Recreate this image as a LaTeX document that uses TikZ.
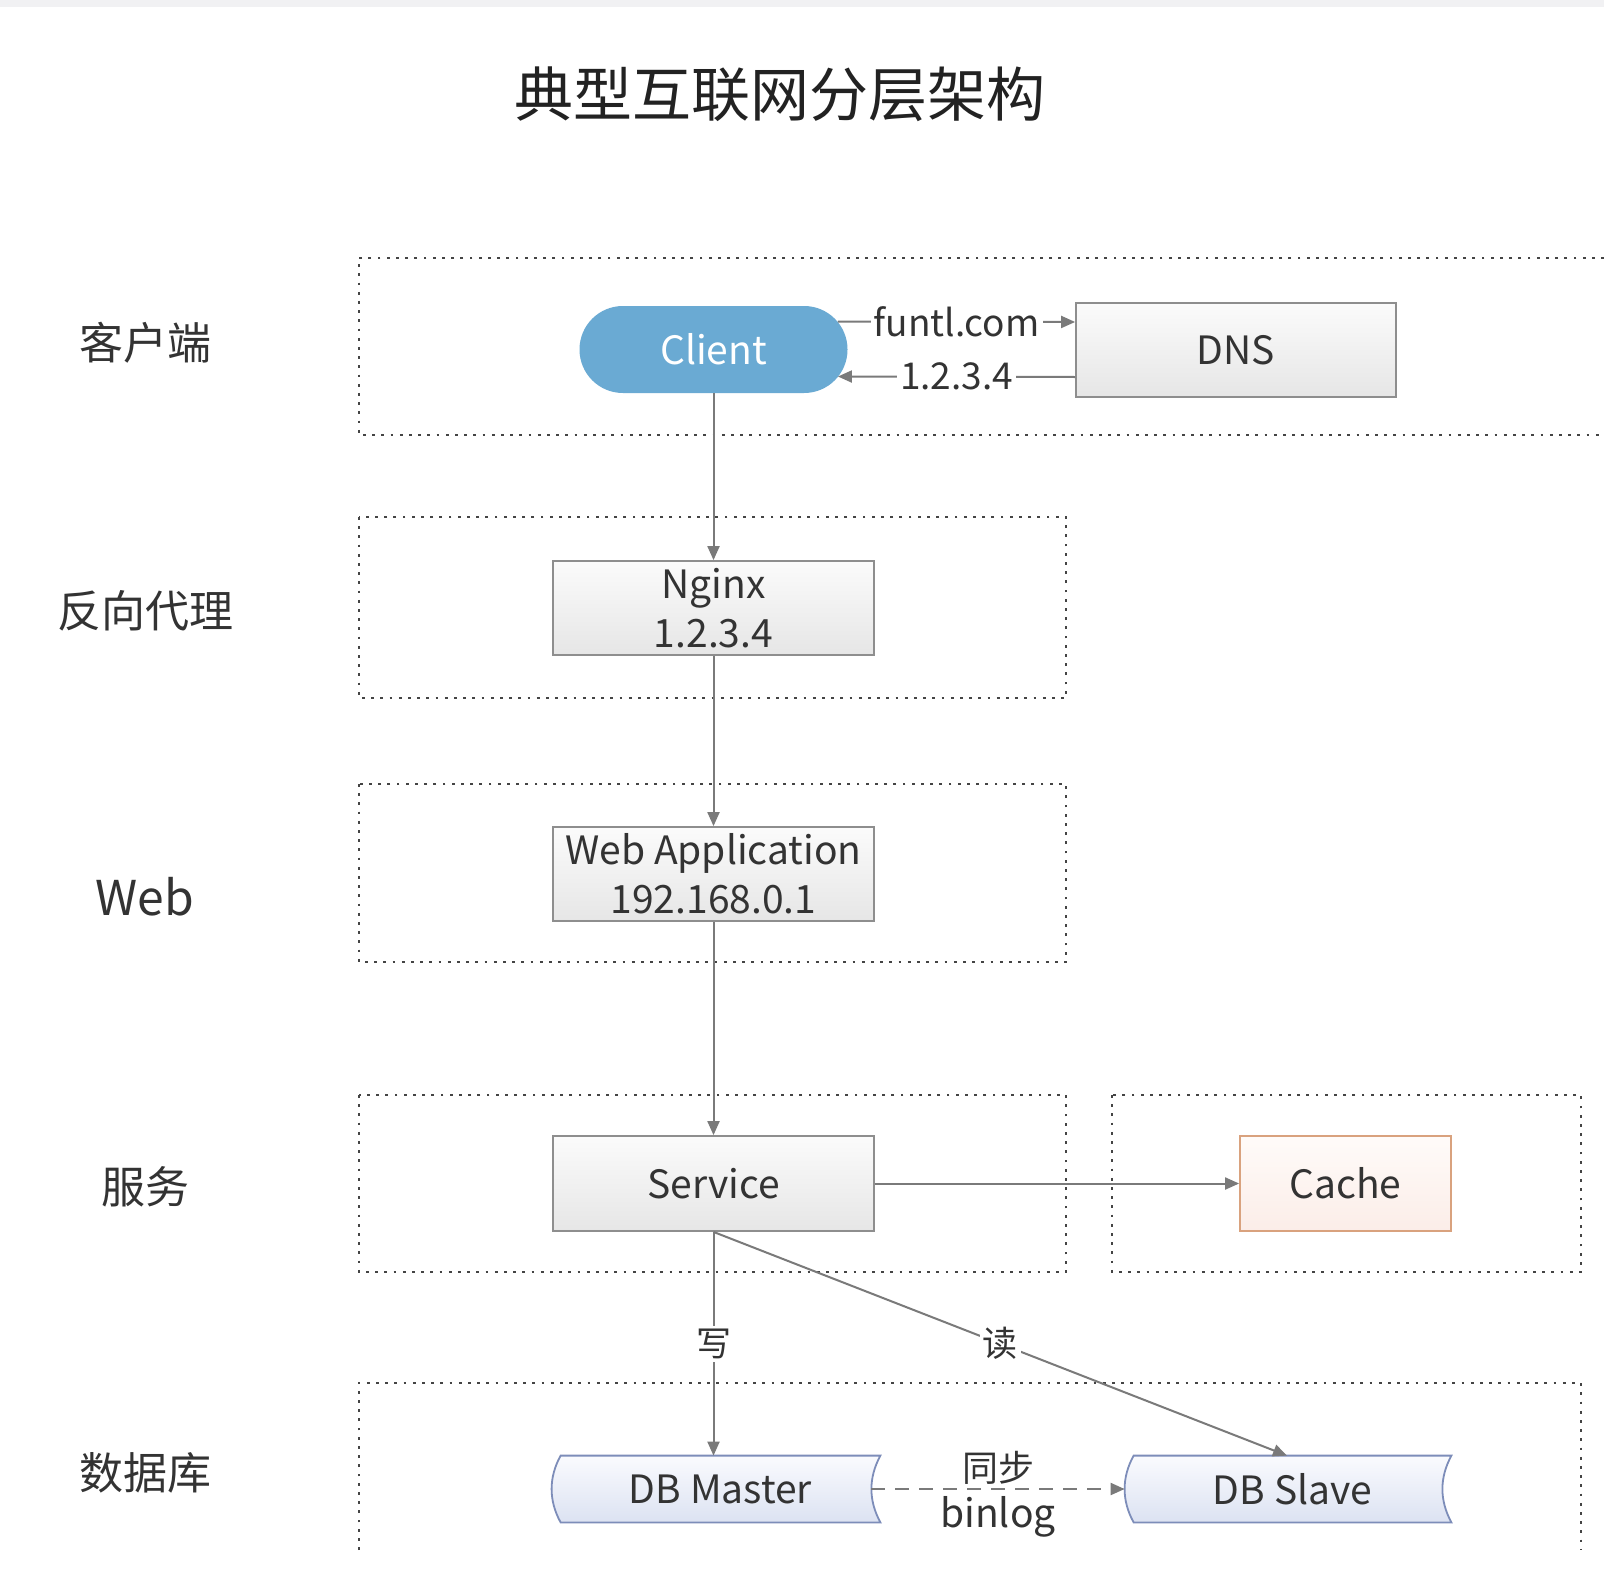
\documentclass[tikz,border=0pt]{standalone}
\usepackage{fontspec}
\setmainfont{Noto Sans CJK SC}
\usetikzlibrary{arrows.meta,backgrounds,calc}
\definecolor{txt}{HTML}{333333}
\definecolor{titlec}{HTML}{222222}
\definecolor{dotc}{HTML}{444444}
\definecolor{connc}{HTML}{7A7A7A}
\definecolor{boxline}{HTML}{8E8E8E}
\definecolor{boxtop}{HTML}{FBFBFB}
\definecolor{boxbot}{HTML}{E6E6E6}
\definecolor{clientblue}{HTML}{6AAAD3}
\definecolor{cacheline}{HTML}{D9A27E}
\definecolor{cachetop}{HTML}{FFFBF9}
\definecolor{cachebot}{HTML}{FBEDE8}
\definecolor{dbline}{HTML}{7D8DB9}
\definecolor{dbtop}{HTML}{FAFBFE}
\definecolor{dbbot}{HTML}{DCE2F2}
\definecolor{topstrip}{HTML}{F1F1F3}
\begin{document}
\begin{tikzpicture}[x=0.5pt,y=-0.5pt,
  dotbox/.style={draw=dotc, line width=1.4pt, dash pattern=on 1.4pt off 3.2pt},
  basenode/.style={inner sep=0pt, align=center, text=txt, font={\fontsize{19.5}{24.5}\selectfont}},
  gbox/.style={basenode, draw=boxline, line width=0.9pt, top color=boxtop, bottom color=boxbot, minimum width=160.5pt, minimum height=47pt},
  cbox/.style={basenode, draw=cacheline, line width=0.9pt, top color=cachetop, bottom color=cachebot, minimum width=105.5pt, minimum height=47.5pt},
  dbtext/.style={basenode, minimum width=159.5pt, minimum height=33pt},
  dbshape/.style={draw=dbline, line width=0.9pt, top color=dbtop, bottom color=dbbot},
  conn/.style={draw=connc, line width=1pt},
  arr/.style={conn, -{Triangle[length=7pt,width=6pt]}},
  layer/.style={text=txt, font={\fontsize{22}{26}\selectfont}},
  lbl/.style={text=txt, font={\fontsize{18.5}{22}\selectfont}, fill=white, inner sep=1.5pt},
  cjklbl/.style={text=txt, font={\fontsize{17.5}{21}\selectfont}, fill=white, inner sep=1.5pt},
]
\useasboundingbox (0,0) rectangle (1604,1594);
\begin{scope}[on background layer]
  \fill[white] (0,0) rectangle (1604,1594);
  \fill[topstrip] (0,0) rectangle (1604,7);
\end{scope}

% title
\node[text=titlec, font={\fontsize{29.5}{34}\selectfont}] (title) at (780,94) {典型互联网分层架构};

% layer labels
\node[layer] (l1) at (145,343) {客户端};
\node[layer] (l2) at (145,611) {反向代理};
\node[layer, font={\fontsize{24}{28}\selectfont}] (l3) at (145,897) {Web};
\node[layer] (l4) at (145,1187) {服务};
\node[layer] (l5) at (145,1473) {数据库};

% dotted layer boxes
\draw[dotbox] (1604,258) -- (359,258) -- (359,435) -- (1604,435);
\draw[dotbox] (359,517) rectangle (1066,698);
\draw[dotbox] (359,784) rectangle (1066,962);
\draw[dotbox] (359,1095) rectangle (1066,1272);
\draw[dotbox] (1112,1095) rectangle (1581,1272);
\draw[dotbox] (359,1550) -- (359,1383) -- (1581,1383) -- (1581,1550);

% nodes
\node[basenode, fill=clientblue, rounded corners=21.7pt, text=white, minimum width=134pt, minimum height=43.5pt] (client) at (713.5,349.5) {Client};
\node[gbox, minimum width=160pt] (dns) at (1236,350) {DNS};
\node[gbox] (nginx) at (713.5,608) {Nginx\\1.2.3.4};
\node[gbox] (web) at (713.5,874) {Web Application\\192.168.0.1};
\node[gbox, minimum height=47.5pt] (service) at (713.5,1183.5) {Service};
\node[cbox] (cache) at (1345.5,1183.5) {Cache};
\node[dbtext] (master) at (720.5,1489) {DB Master};
\node[dbtext, minimum width=158.5pt] (slave) at (1292.5,1489) {DB Slave};

\begin{scope}[on background layer]
\foreach \n in {master,slave}
  \draw[dbshape] (\n.north west) .. controls +(-12,22) and +(-12,-22) .. (\n.south west)
     -- (\n.south east) .. controls +(-12,-22) and +(-12,22) .. (\n.north east) -- cycle;
\end{scope}

% connectors
\draw[arr] ([xshift=-5pt,yshift=14pt]client.east) -- node[lbl]{funtl.com} ([yshift=14pt]dns.west);
\draw[arr] ([yshift=-13.5pt]dns.west) -- node[lbl]{1.2.3.4} ([xshift=-5pt,yshift=-13.5pt]client.east);
\draw[arr] (client.south) -- (nginx.north);
\draw[arr] (nginx.south) -- (web.north);
\draw[arr] (web.south) -- (service.north);
\draw[arr] (service.east) -- (cache.west);
\draw[arr] (service.south) -- node[cjklbl]{写} (service.south |- master.north);
\draw[arr] (service.south) -- node[cjklbl]{读} ([xshift=-2.75pt]slave.north);
\draw[arr, dash pattern=on 7pt off 5pt] ([xshift=-4.5pt]master.east) --
  node[above, text=txt, font={\fontsize{18}{21}\selectfont}, inner sep=2pt]{同步}
  node[below, text=txt, font={\fontsize{19.5}{23}\selectfont}, inner sep=3pt]{binlog}
  ([xshift=-4.5pt]slave.west);
\end{tikzpicture}
\end{document}
